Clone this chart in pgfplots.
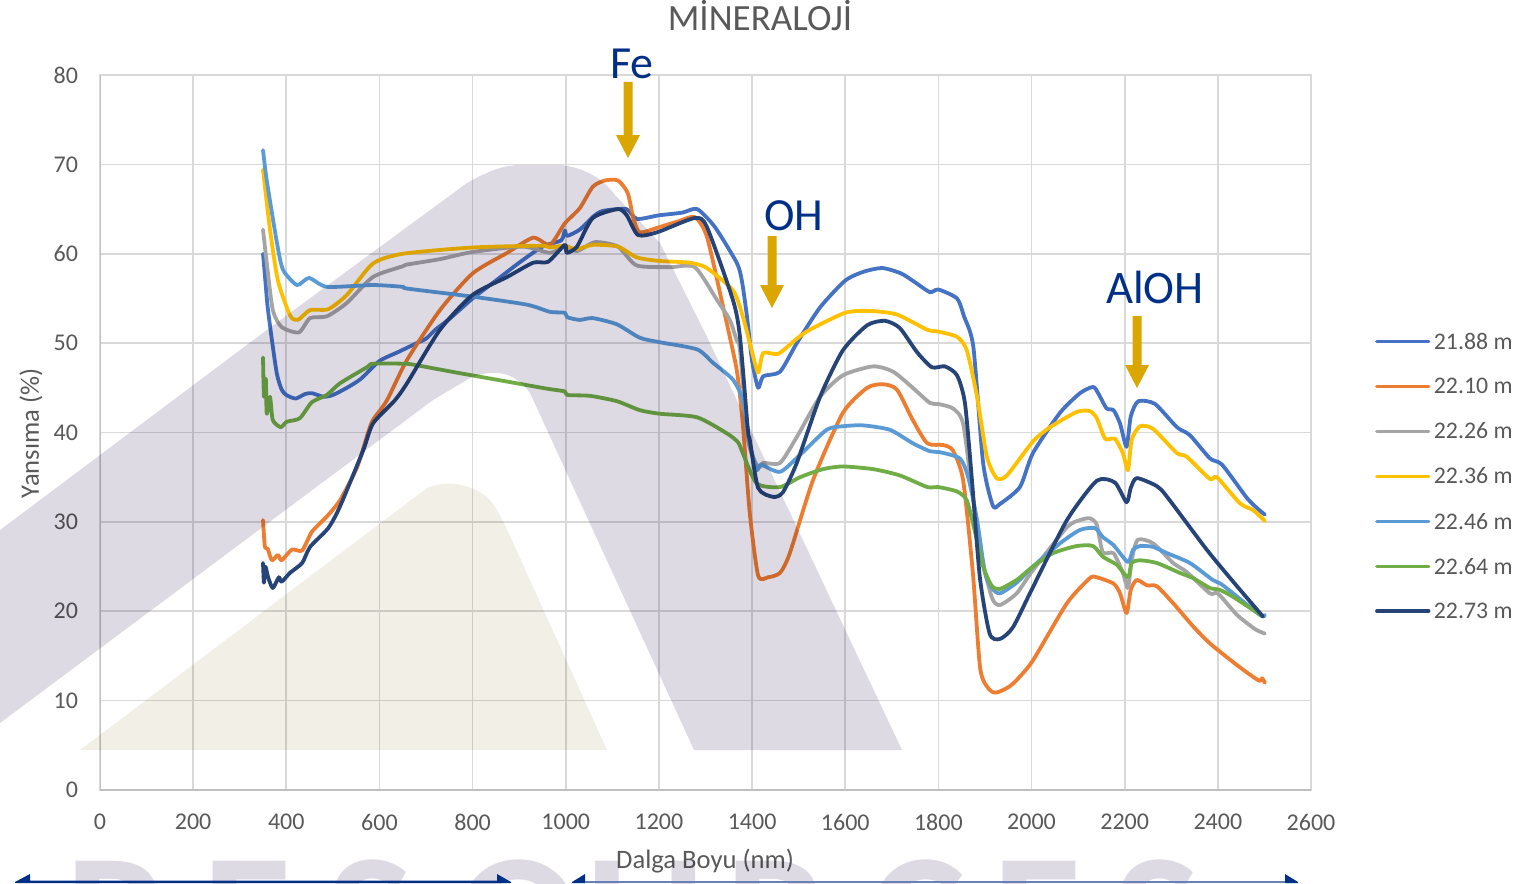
\documentclass[border=0pt]{standalone}
\usepackage{fontspec}
\setmainfont{Carlito}
\usepackage{pgfplots}
\pgfplotsset{compat=1.18}
\usetikzlibrary{calc}
\definecolor{sA}{HTML}{4472C4}
\definecolor{sB}{HTML}{ED7D31}
\definecolor{sC}{HTML}{A5A5A5}
\definecolor{sD}{HTML}{FFC000}
\definecolor{sE}{HTML}{5B9BD5}
\definecolor{sF}{HTML}{70AD47}
\definecolor{sG}{HTML}{264478}
\definecolor{txt}{HTML}{595959}
\definecolor{gridc}{HTML}{D9D9D9}
\definecolor{axc}{HTML}{BFBFBF}
\definecolor{wmA}{HTML}{DDDAE4}
\definecolor{wmB}{HTML}{F2EFE6}
\definecolor{navy}{HTML}{002F87}
\definecolor{gold}{HTML}{DAA700}
\begin{document}
\begin{tikzpicture}[x=0.5pt,y=-0.5pt]
\path[use as bounding box] (0,0) rectangle (1529,883);
\clip (0,0) rectangle (1529,883);
\begin{axis}[
  at={(50pt,-395pt)},anchor=south west,
  scale only axis,width=605.5pt,height=357.5pt,
  xmin=0,xmax=2600,ymin=0,ymax=80,
  xtick={0,200,...,2600},ytick={0,10,...,80},
  grid=major,
  major grid style={gridc,line width=0.85pt},
  axis line style={gridc,line width=0.85pt},
  major tick length=0pt,
  tick style={draw=none},
  /pgf/number format/assume math mode=true,
  /pgf/number format/1000 sep={},
  tick label style={font=\fontsize{12}{14}\selectfont,text=txt},
  xticklabel style={yshift=-8.5pt},
  yticklabel style={xshift=-7.5pt},
  title={MİNERALOJİ},
  title style={font=\fontsize{18.5}{20}\selectfont,text=txt,at={(axis description cs:0.545,1.066)},anchor=center},
  xlabel={Dalga Boyu (nm)},
  ylabel={Yansıma (\%)},
  xlabel style={font=\fontsize{13.3}{15}\selectfont,text=txt,at={(axis description cs:0.4996,-0.1)},anchor=center},
  ylabel style={font=\fontsize{13.3}{15}\selectfont,text=txt,at={(axis description cs:-0.057,0.499)},anchor=center},
  legend style={at={(axis description cs:1.0529,0.639)},anchor=north west,draw=none,fill=none,
    font=\fontsize{11.9}{14}\selectfont,text=txt,row sep=13pt,inner sep=0pt,outer sep=0pt,
    nodes={inner sep=0pt,anchor=base west}},
  legend cell align=left,
  legend image code/.code={\draw[#1,line cap=round,line width=1.7pt] (0pt,3.8pt) -- (26pt,3.8pt);},
  every axis plot/.append style={line width=1.9pt,line join=round,line cap=round,no markers,smooth,tension=0.4},
]
\addplot[sA] coordinates {(350,60)(355,57)(360,54)(370,50)(380,46.5)(390,44.8)(400,44.2)(420,43.8)(440,44.3)(455,44.4)(480,44)(500,44.2)(530,45)(560,46)(600,48)(640,49)(680,50)(700,50.5)(720,51.5)(750,52.7)(800,55)(850,57)(900,59)(950,60.8)(990,61.5)(998,62.6)(1003,62)(1030,62.7)(1060,64.2)(1080,64.8)(1130,65)(1153,63.9)(1200,64.3)(1250,64.6)(1282,65)(1320,63)(1367,59)(1378,57)(1389,53)(1400,48)(1413,45)(1424,46.3)(1460,46.8)(1496,50)(1546,54)(1600,57)(1640,58)(1680,58.4)(1720,57.8)(1750,56.8)(1782,55.7)(1800,56)(1840,55)(1855,53)(1875,49.6)(1896,36.6)(1917,31.8)(1932,32)(1975,33.9)(2003,37.7)(2061,42.2)(2104,44.4)(2132,45.1)(2143,44.4)(2161,42.7)(2176,42.5)(2190,41)(2204,38.4)(2213,41.8)(2229,43.5)(2265,43.2)(2312,40.6)(2340,39.7)(2383,37.1)(2409,36.4)(2462,32.7)(2485,31.5)(2501,30.8)};
\addlegendentry{\hspace{1.7pt}21.88 m}
\addplot[sB] coordinates {(350,30.2)(354,27.2)(360,27)(369,25.7)(382,26.3)(390,25.7)(412,26.9)(434,26.8)(455,28.9)(487,30.6)(515,32.4)(552,36.1)(575,39.9)(586,41.4)(616,43.6)(659,48.1)(730,53.7)(800,57.8)(874,60.1)(930,61.8)(966,61)(998,63.4)(1030,65.1)(1058,67.5)(1084,68.2)(1112,68.2)(1133,66.8)(1145,64)(1159,62.4)(1202,63)(1240,63.6)(1277,64.1)(1303,61.9)(1338,54)(1367,47)(1380,41)(1395,31)(1413,24)(1434,23.8)(1460,24.3)(1481,26.5)(1531,34.7)(1595,42.2)(1647,45)(1681,45.4)(1711,44.8)(1745,41.4)(1776,38.8)(1810,38.6)(1831,38)(1853,34.7)(1874,24.3)(1890,13.5)(1910,11.2)(1925,10.9)(1950,11.5)(1968,12.3)(2003,14.5)(2076,20.9)(2125,23.7)(2140,23.8)(2176,23.1)(2190,22)(2204,19.8)(2213,22.4)(2226,23.5)(2248,22.9)(2269,22.8)(2304,20.9)(2347,18.3)(2383,16.4)(2433,14.3)(2469,12.9)(2490,12.2)(2495,12.5)(2501,12)};
\addlegendentry{\hspace{1.7pt}22.10 m}
\addplot[sC] coordinates {(350,62.7)(358,59)(371,53.7)(390,51.8)(427,51.2)(451,52.8)(487,53)(530,54.5)(586,57.4)(650,58.6)(660,58.8)(730,59.4)(800,60.2)(908,60.8)(966,60.1)(998,60.8)(1024,60.3)(1063,61.3)(1112,60.8)(1152,58.7)(1224,58.5)(1277,58.5)(1325,54.8)(1352,52.6)(1367,50.3)(1374,49.2)(1391,39.2)(1413,36.1)(1424,36.6)(1460,36.6)(1496,39.5)(1546,44)(1595,46.4)(1660,47.4)(1703,46.8)(1745,45)(1782,43.3)(1799,43.2)(1831,42.7)(1853,41)(1874,32.8)(1893,26.1)(1915,21.5)(1932,20.7)(1968,22)(2003,24.6)(2076,29.4)(2104,30.2)(2125,30.4)(2140,29.7)(2153,26.6)(2176,26.5)(2196,24.3)(2207,22.6)(2215,25.7)(2228,28)(2261,27.6)(2304,25.4)(2333,24.4)(2383,22)(2400,22)(2441,19.6)(2480,18)(2501,17.5)};
\addlegendentry{\hspace{1.7pt}22.26 m}
\addplot[sD] coordinates {(350,69.4)(365,62.7)(382,57)(408,53.1)(425,52.6)(451,53.7)(490,53.8)(530,55.4)(586,58.9)(650,60)(800,60.7)(945,60.9)(966,60.7)(998,60.9)(1023,60.5)(1058,61)(1112,60.8)(1152,59.6)(1200,59.2)(1266,59)(1303,58.4)(1359,55.9)(1380,53)(1399,49.2)(1413,46.7)(1424,48.9)(1456,48.8)(1496,50.5)(1524,51.5)(1600,53.4)(1653,53.6)(1711,53.2)(1776,51.5)(1799,51.3)(1840,50.7)(1861,49.2)(1883,44)(1904,37.3)(1925,34.9)(1947,35.2)(2003,39)(2040,40.6)(2097,42.3)(2125,42.4)(2140,41.6)(2158,39.3)(2179,39.3)(2196,37.7)(2207,35.8)(2215,39.2)(2233,40.7)(2261,40.4)(2312,37.7)(2333,37.3)(2383,34.8)(2398,35)(2447,32.1)(2476,31.3)(2501,30.1)};
\addlegendentry{\hspace{1.7pt}22.36 m}
\addplot[sE] coordinates {(350,71.6)(358,68.2)(380,61.2)(393,58.2)(423,56.5)(449,57.3)(487,56.3)(586,56.5)(650,56.3)(660,56.1)(800,55.2)(917,54.3)(966,53.5)(998,53.4)(1003,52.9)(1030,52.6)(1058,52.8)(1110,52.1)(1159,50.6)(1202,50.1)(1282,49.3)(1316,47.8)(1359,45.9)(1380,43.6)(1395,38.8)(1410,35.8)(1419,36.4)(1460,35.6)(1503,37.5)(1560,40.3)(1595,40.7)(1638,40.8)(1696,40.3)(1745,38.8)(1782,37.9)(1803,37.8)(1846,37.1)(1864,35)(1883,30.2)(1900,24.3)(1915,22.6)(1932,22)(1968,23.2)(2003,25)(2061,27.6)(2104,29.1)(2136,29.3)(2153,28.3)(2176,27.4)(2207,25.5)(2218,26.9)(2233,27.3)(2261,27.2)(2291,26.5)(2340,25.4)(2389,23.5)(2411,22.9)(2490,19.6)(2501,19.6)};
\addlegendentry{\hspace{1.7pt}22.46 m}
\addplot[sF] coordinates {(350,48.4)(352,44)(356,46)(358,42.1)(365,44)(371,41.4)(388,40.6)(401,41.2)(429,41.6)(455,43.4)(487,44.2)(515,45.5)(573,47.3)(586,47.7)(650,47.7)(672,47.6)(766,46.7)(874,45.7)(960,44.9)(998,44.6)(1003,44.2)(1052,44.1)(1110,43.5)(1159,42.5)(1202,42.1)(1282,41.7)(1346,39.9)(1370,38.9)(1380,37.7)(1410,34.3)(1460,33.9)(1503,35)(1552,35.9)(1595,36.2)(1660,35.9)(1717,35.2)(1776,33.9)(1799,33.9)(1840,33.4)(1861,32.4)(1878,29)(1896,25)(1915,22.8)(1932,22.5)(1968,23.5)(2003,25)(2046,26.5)(2097,27.3)(2132,27.3)(2153,26.1)(2183,25.2)(2207,23.8)(2215,25.4)(2233,25.7)(2269,25.4)(2318,24.3)(2347,23.7)(2383,22.6)(2404,22.4)(2433,21.6)(2497,19.4)};
\addlegendentry{\hspace{1.7pt}22.64 m}
\addplot[sG] coordinates {(350,25.4)(352,23.2)(355,25)(361,23.8)(371,22.6)(384,23.8)(390,23.3)(408,24.3)(434,25.4)(451,27.2)(490,29.3)(515,31.7)(565,38)(586,41)(633,43.6)(659,45.5)(730,51.5)(800,55.4)(874,57.4)(930,59)(962,59.1)(998,61)(1002,60.1)(1024,60.8)(1058,64)(1112,65)(1131,64.3)(1155,62.1)(1196,62.4)(1277,64)(1303,63)(1359,54.8)(1374,50.7)(1391,40.3)(1395,39.2)(1413,33.8)(1445,32.8)(1466,33.3)(1496,36.6)(1546,44)(1595,49.2)(1647,52)(1685,52.5)(1717,51.7)(1754,49)(1786,47.3)(1814,47.4)(1840,46.4)(1857,43.3)(1872,34.7)(1889,23.8)(1910,17.5)(1932,16.9)(1960,18.2)(2003,22.7)(2076,30.2)(2140,34.6)(2179,34.4)(2204,32.2)(2213,33.8)(2226,34.9)(2269,34)(2291,32.8)(2376,26.9)(2433,23.3)(2497,19.4)};
\addlegendentry{\hspace{1.7pt}22.73 m}
\draw[color=axc,line width=0.95pt] (axis cs:0,80) -- (axis cs:0,0) -- (axis cs:2600,0);
\end{axis}
% annotations
\foreach \cx/\top/\tip in {628/82/158,772/236/308,1137/316/388}{
  \fill[gold] (\cx-4.5,\top) -- (\cx+4.5,\top) -- (\cx+4.5,\tip-23) -- (\cx+12,\tip-23) -- (\cx,\tip) -- (\cx-12,\tip-23) -- (\cx-4.5,\tip-23) -- cycle;
}
\node[anchor=base,text=navy,font=\fontsize{23}{24}\selectfont,inner sep=0pt] at (632,79) {Fe};
\node[anchor=base,text=navy,font=\fontsize{23}{24}\selectfont,inner sep=0pt] at (794,230) {OH};
\node[anchor=base,text=navy,font=\fontsize{23.3}{24}\selectfont,inner sep=0pt] at (1155,303) {AlOH};
% watermark on top, multiplied
\begin{scope}[blend mode=multiply]
\fill[wmA] (0,530) -- (260,335) -- (467,183) .. controls (490,170) and (505,165) .. (520,165) -- (560,165) .. controls (580,167) and (600,175) .. (615,195) -- (660,243) -- (707,337) -- (902,750) -- (694,750) -- (530,393) .. controls (515,372) and (495,368) .. (470,378) -- (433,400) -- (0,723) -- cycle;
\fill[wmB] (80,750) -- (427,488) .. controls (440,482) and (465,480) .. (487,497) .. controls (495,505) and (500,515) .. (505,525) -- (607,750) -- cycle;
\foreach \lx/\ch in {65/R,202/E,326/S,456/O,585/U,725/R,868/C,992/E,1113/S}{
  \node[anchor=base west,inner sep=0pt,text=wmA,font=\fontsize{92}{96}\bfseries\selectfont] at (\lx,980) {\ch};
}
\end{scope}
% bottom arrows
\fill[navy] (15,882) -- (30,874) -- (30,880.5) -- (497,880.5) -- (497,874) -- (511,882) -- (511,883) -- (15,883) -- cycle;
\fill[navy] (572,882) -- (585,874) -- (585,883) -- (572,883) -- cycle;
\fill[navy] (1298,882) -- (1285,874) -- (1285,883) -- (1298,883) -- cycle;
\draw[color=navy!60!white,line width=1pt] (585,881.5) -- (1285,881.5);
\end{tikzpicture}
\end{document}
